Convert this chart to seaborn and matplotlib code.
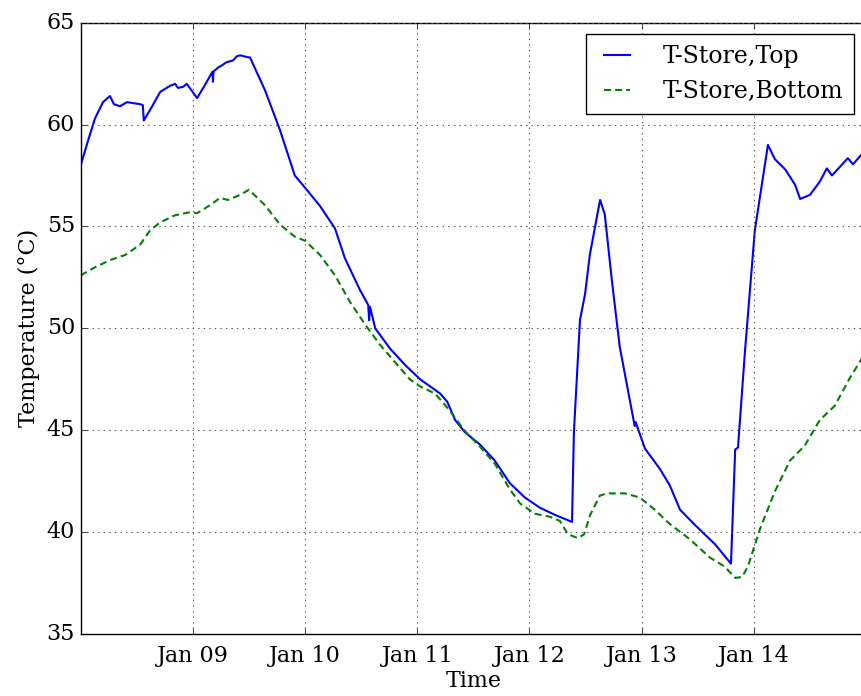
import matplotlib
matplotlib.use("Agg")
import matplotlib.pyplot as plt
import matplotlib.dates as mdates
import numpy as np
import pandas as pd
import seaborn as sns

# hours after 2014-01-08 00:00 and store temperatures
start = pd.Timestamp("2014-01-08 00:00")

top_hours = [0.0, 1.56, 3.06, 4.77, 6.27, 7.12, 8.41, 9.9, 12.7, 13.3, 13.5, 15.3,
             17.0, 19.1, 20.2, 20.8, 21.9, 22.7, 24.9, 26.6, 28.2, 28.3, 28.4, 29.4,
             30.2, 31.1, 32.6, 33.4, 34.1, 35.8, 36.2, 39.4, 42.6, 45.8, 48.0, 51.2,
             54.4, 56.5, 59.7, 61.5, 61.7, 61.9, 63.0, 66.2, 69.4, 72.6, 76.9, 78.4,
             80.1, 82.2, 85.4, 88.6, 91.8, 95.0, 98.2, 101.4, 105.1, 105.5, 106.8,
             107.9, 108.9, 111.1, 112.1, 113.6, 115.3, 118.1, 118.5, 118.7, 120.7,
             123.9, 126.0, 128.2, 131.4, 135.7, 139.1, 140.0, 140.6, 142.1, 144.2,
             147.0, 148.5, 150.7, 152.8, 153.9, 156.0, 158.1, 159.6, 160.7, 164.1,
             165.2, 166.9, 168.0]
top_temp = [58.0, 59.2, 60.3, 61.1, 61.4, 61.0, 60.9, 61.1, 61.0, 60.95, 60.2, 60.9,
            61.6, 61.9, 62.0, 61.8, 61.85, 62.0, 61.3, 61.95, 62.6, 62.1, 62.6, 62.8,
            62.9, 63.05, 63.15, 63.35, 63.4, 63.3, 63.3, 61.7, 59.75, 57.5, 56.9, 56.0,
            54.9, 53.45, 51.9, 51.15, 50.4, 51.05, 50.0, 49.0, 48.2, 47.5, 46.8, 46.4,
            45.5, 44.9, 44.3, 43.5, 42.4, 41.7, 41.2, 40.85, 40.5, 44.9, 50.4,
            51.7, 53.6, 56.3, 55.6, 52.4, 49.1, 45.7, 45.2, 45.4, 44.1,
            43.1, 42.3, 41.1, 40.35, 39.4, 38.45, 44.05, 44.15, 48.9, 54.8,
            59.0, 58.3, 57.8, 57.05, 56.35, 56.55, 57.2, 57.85, 57.5, 58.35,
            58.05, 58.5, 58.7]

bottom_hours = [0.0, 3.1, 6.3, 9.5, 12.7, 14.8, 17.0, 20.2, 23.4, 24.9, 27.7, 29.8,
                31.5, 34.1, 36.0, 39.4, 42.6, 45.8, 48.0, 51.2, 54.4, 57.6, 60.8, 64.0,
                67.2, 70.4, 72.6, 75.8, 79.0, 82.2, 85.4, 88.6, 91.8, 94.0, 97.2, 100.4,
                102.5, 104.2, 106.4, 107.7, 109.0, 111.1, 112.6, 116.4, 119.6, 122.8,
                126.0, 130.3, 134.6, 137.8, 140.0, 141.5, 142.7, 145.3, 148.5, 151.7,
                154.9, 158.1, 161.3, 164.5, 166.9, 168.0]
bottom_temp = [52.6, 53.0, 53.35, 53.6, 54.1, 54.8, 55.2, 55.55, 55.7, 55.65, 56.05, 56.4,
               56.3, 56.55, 56.8, 56.05, 55.1, 54.5, 54.3, 53.6, 52.6, 51.3, 50.2, 49.2,
               48.35, 47.5, 47.15, 46.8, 45.95, 44.95, 44.2, 43.35, 42.1, 41.4, 40.9, 40.75,
               40.55, 39.9, 39.7, 39.9, 40.85, 41.8, 41.9, 41.9, 41.7, 41.1,
               40.4, 39.65, 38.75, 38.3, 37.75, 37.8, 38.3, 40.15, 42.0, 43.5,
               44.25, 45.5, 46.2, 47.55, 48.45, 48.9]

series_labels = ["T-Store,Top", "T-Store,Bottom"]
y_ticks = [35, 40, 45, 50, 55, 60, 65]
x_tick_days = ["2014-01-09", "2014-01-10", "2014-01-11", "2014-01-12",
               "2014-01-13", "2014-01-14"]

top_time = start + pd.to_timedelta(top_hours, unit="h")
bottom_time = start + pd.to_timedelta(bottom_hours, unit="h")

plt.style.use("classic")
plt.rcParams["font.family"] = ["DejaVu Serif"]
plt.rcParams["font.size"] = 16

fig = plt.figure(figsize=(8.61, 6.96), dpi=100, facecolor="white")
ax = fig.add_axes([0.0937, 0.0891, 0.9122, 0.8783])

sns.lineplot(x=top_time, y=top_temp, ax=ax, color="b", lw=1.5,
             label=series_labels[0], sort=False)
sns.lineplot(x=bottom_time, y=bottom_temp, ax=ax, color="g", lw=1.5,
             dashes=False, label=series_labels[1], sort=False)
ax.lines[1].set_dashes((5, 3))

ax.set_xlim(start, start + pd.Timedelta(days=7))
ax.set_ylim(35, 65)
ax.set_yticks(y_ticks)
ax.set_xticks(pd.to_datetime(x_tick_days))
ax.xaxis.set_major_formatter(mdates.DateFormatter("%b %d"))
ax.tick_params(labelsize=16)
ax.tick_params(axis="x", pad=8)
ax.grid(True, color="#555555", linestyle=":", linewidth=0.8)

ax.set_xlabel("Time", fontsize=16, labelpad=2)
ax.set_ylabel("Temperature (°C)", fontsize=16)
ax.legend(loc="upper right", fontsize=17, frameon=True, fancybox=False,
          handlelength=1.7, handletextpad=1.1, labelspacing=0.5,
          borderpad=0.45, borderaxespad=0.5)

fig.savefig("out.png", dpi=100, facecolor="white")
